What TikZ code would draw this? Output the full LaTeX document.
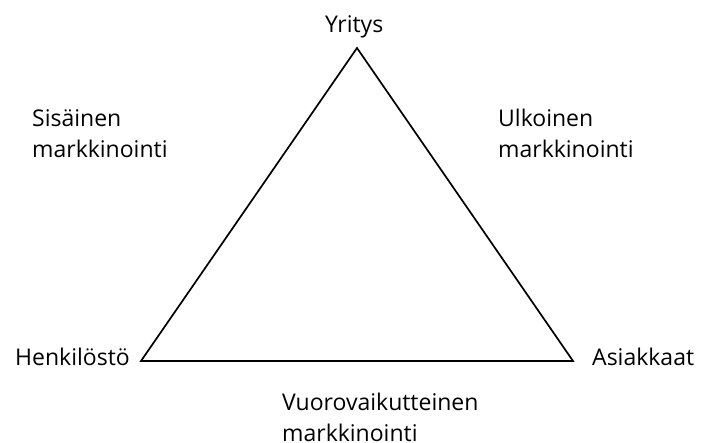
\documentclass[tikz,border=0pt]{standalone}
\usepackage{fontspec}
\setmainfont{Open Sans}
\begin{document}
\begin{tikzpicture}[x=1pt,y=-1pt,
  lbl/.style={inner sep=0pt,font=\fontsize{23}{31}\selectfont,align=left,anchor=base west},
  edge/.style={line width=1.7pt,line join=miter}]
\useasboundingbox (0,0) rectangle (701,443);
\coordinate (top) at (357,48);
\coordinate (bl) at (141,361);
\coordinate (br) at (573,361);
\draw[edge] (top) -- (bl) -- (br) -- cycle;
\node[lbl] (yr) at (325,33) {Yritys};
\node[lbl] (sis) at (32,158) {Sisäinen\\markkinointi};
\node[lbl] (ulk) at (498,158) {Ulkoinen\\markkinointi};
\node[lbl] (hen) at (15,366) {Henkilöstö};
\node[lbl] (asi) at (592,365) {Asiakkaat};
\node[lbl] (vuo) at (282,441) {Vuorovaikutteinen\\markkinointi};
\end{tikzpicture}
\end{document}
